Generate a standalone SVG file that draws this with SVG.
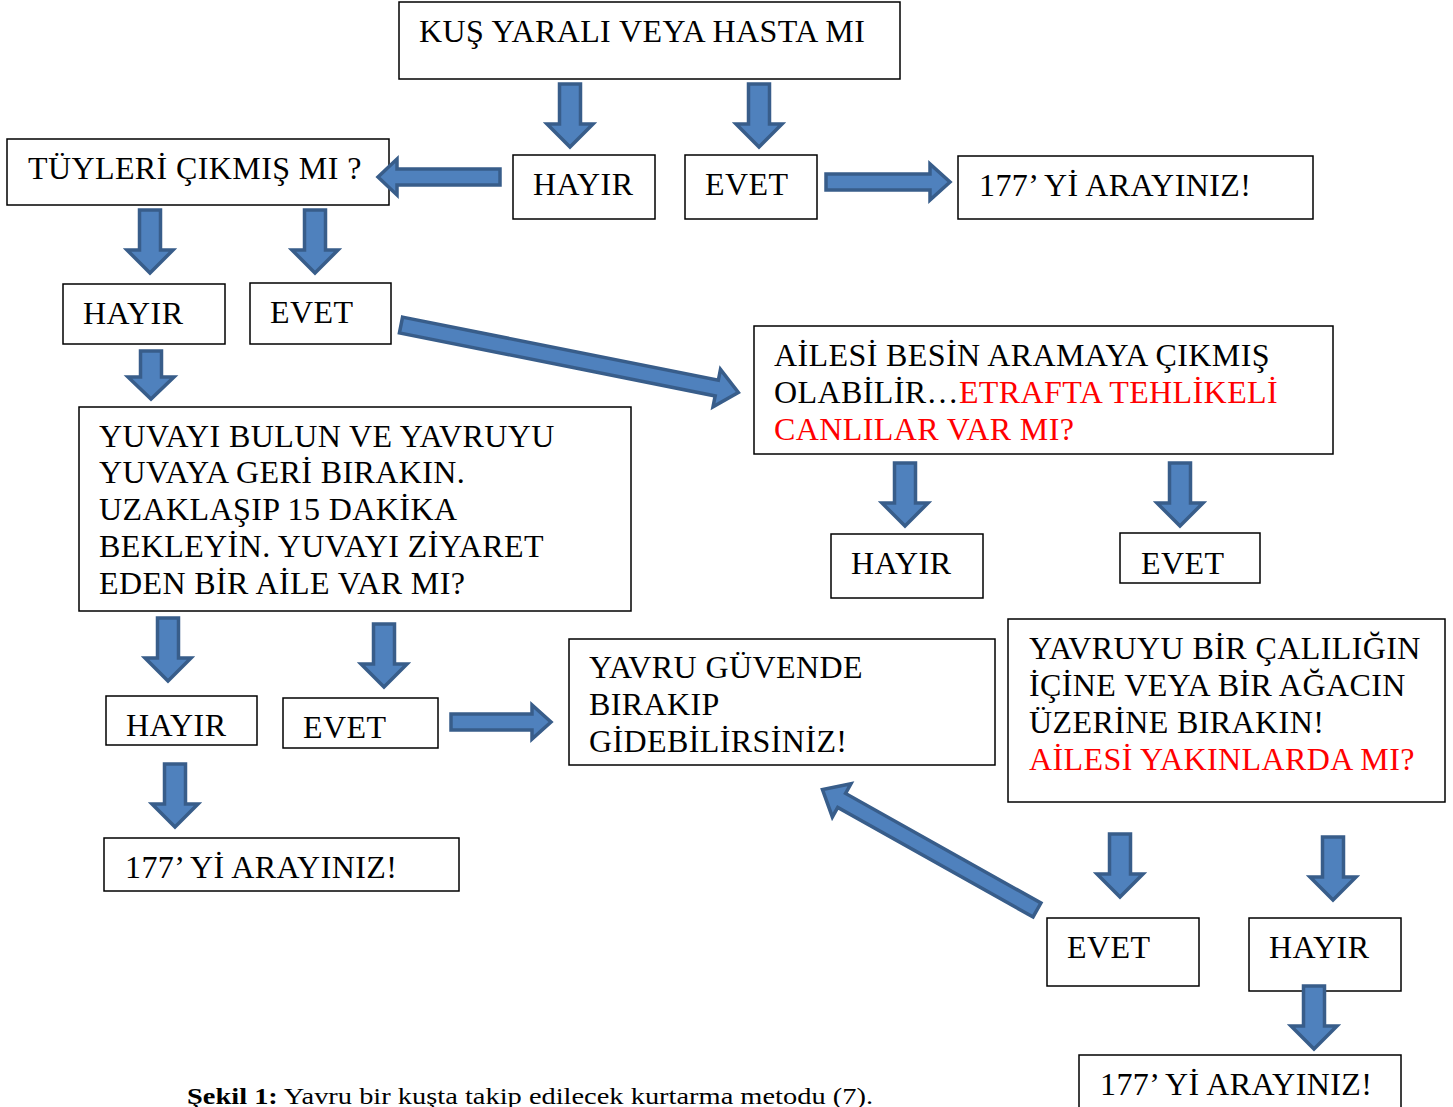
<svg xmlns="http://www.w3.org/2000/svg" width="1453" height="1107" viewBox="0 0 1453 1107">
<style>
.box{fill:#fff;stroke:#000;stroke-width:1.5}
.t{font-family:"Liberation Serif","Times New Roman",serif;font-size:32px;letter-spacing:0.4px;fill:#000}
.r{fill:#ff0000}
.arr{fill:#4f81bd;stroke:#385d8a;stroke-width:3.5;stroke-linejoin:miter}
.cap{font-family:"Liberation Serif","Times New Roman",serif;font-size:23px;fill:#000}
</style>
<defs>
<path id="down" d="M-10.5,0 H10.5 V40 H23 L0,63 L-23,40 H-10.5 Z"/>
<path id="downS" d="M-10.5,0 H10.5 V26 H23 L0,48 L-23,26 H-10.5 Z"/>
</defs>
<rect width="1453" height="1107" fill="#fff"/>
<g id="n-kus"><rect class="box" x="399" y="2" width="501" height="77"/><text class="t" x="419" y="42">KUŞ YARALI VEYA HASTA MI</text></g>
<g id="n-hayir1"><rect class="box" x="513" y="155" width="142" height="64"/><text class="t" x="533" y="195">HAYIR</text></g>
<g id="n-evet1"><rect class="box" x="685" y="155" width="132" height="64"/><text class="t" x="705" y="195">EVET</text></g>
<g id="n-177a"><rect class="box" x="958" y="156" width="355" height="63"/><text class="t" x="979" y="196">177’ Yİ ARAYINIZ!</text></g>
<g id="n-tuy"><rect class="box" x="7" y="139" width="382" height="66"/><text class="t" x="28" y="179">TÜYLERİ ÇIKMIŞ MI ?</text></g>
<g id="n-hayir2"><rect class="box" x="63" y="284" width="162" height="60"/><text class="t" x="83" y="324">HAYIR</text></g>
<g id="n-evet2"><rect class="box" x="250" y="283" width="141" height="61"/><text class="t" x="270" y="323">EVET</text></g>
<g id="n-ailesi"><rect class="box" x="754" y="326" width="579" height="128"/>
<text class="t" x="774" y="366">AİLESİ BESİN ARAMAYA ÇIKMIŞ</text>
<text class="t" x="774" y="403">OLABİLİR…<tspan class="r">ETRAFTA TEHLİKELİ</tspan></text>
<text class="t r" x="774" y="440">CANLILAR VAR MI?</text></g>
<g id="n-hayir3"><rect class="box" x="831" y="534" width="152" height="64"/><text class="t" x="851" y="574">HAYIR</text></g>
<g id="n-evet3"><rect class="box" x="1120" y="533" width="140" height="50"/><text class="t" x="1141" y="574">EVET</text></g>
<g id="n-yuva"><rect class="box" x="79" y="407" width="552" height="204"/>
<text class="t" x="99" y="447">YUVAYI BULUN VE YAVRUYU</text>
<text class="t" x="99" y="483">YUVAYA GERİ BIRAKIN.</text>
<text class="t" x="99" y="520">UZAKLAŞIP 15 DAKİKA</text>
<text class="t" x="99" y="557">BEKLEYİN. YUVAYI ZİYARET</text>
<text class="t" x="99" y="594">EDEN BİR AİLE VAR MI?</text></g>
<g id="n-hayir4"><rect class="box" x="106" y="696" width="151" height="49"/><text class="t" x="126" y="736">HAYIR</text></g>
<g id="n-evet4"><rect class="box" x="283" y="698" width="155" height="50"/><text class="t" x="303" y="738">EVET</text></g>
<g id="n-177b"><rect class="box" x="104" y="838" width="355" height="53"/><text class="t" x="125" y="878">177’ Yİ ARAYINIZ!</text></g>
<g id="n-guvende"><rect class="box" x="569" y="639" width="426" height="126"/>
<text class="t" x="589" y="678">YAVRU GÜVENDE</text>
<text class="t" x="589" y="715">BIRAKIP</text>
<text class="t" x="589" y="752">GİDEBİLİRSİNİZ!</text></g>
<g id="n-yavruyu"><rect class="box" x="1008" y="619" width="437" height="183"/>
<text class="t" x="1029" y="659">YAVRUYU BİR ÇALILIĞIN</text>
<text class="t" x="1029" y="696">İÇİNE VEYA BİR AĞACIN</text>
<text class="t" x="1029" y="733">ÜZERİNE BIRAKIN!</text>
<text class="t r" x="1029" y="770">AİLESİ YAKINLARDA MI?</text></g>
<g id="n-evet5"><rect class="box" x="1047" y="918" width="152" height="68"/><text class="t" x="1067" y="958">EVET</text></g>
<g id="n-hayir5"><rect class="box" x="1249" y="918" width="152" height="73"/><text class="t" x="1269" y="958">HAYIR</text></g>
<g id="n-177c"><rect class="box" x="1079" y="1055" width="322" height="60"/><text class="t" x="1100" y="1095">177’ Yİ ARAYINIZ!</text></g>
<g id="connectors" class="arr">
<use href="#down" x="570" y="84"/>
<use href="#down" x="759" y="84"/>
<path d="M500,169 H397 V159 L378,177 L397,195 V185 H500 Z"/>
<path d="M826,174 H930 V164 L950,182 L930,200 V190 H826 Z"/>
<use href="#down" x="150" y="210"/>
<use href="#down" x="315" y="210"/>
<path transform="translate(401,325) rotate(11.3)" d="M0,-8 H322 V-19 L344,0 L322,19 V8 H0 Z"/>
<use href="#downS" x="151" y="351"/>
<use href="#down" x="905" y="463"/>
<use href="#down" x="1180" y="463"/>
<use href="#down" x="168" y="618"/>
<use href="#down" x="384" y="624"/>
<path d="M451,714 H532 V705 L551,722 L532,739 V730 H451 Z"/>
<use href="#down" x="175" y="764"/>
<path transform="translate(1037,910) rotate(209.3)" d="M0,-8 H224 V-19 L246,0 L224,19 V8 H0 Z"/>
<use href="#down" x="1120" y="834"/>
<use href="#down" x="1333" y="837"/>
<use href="#down" x="1314" y="986"/>
</g>
<text class="cap" x="187" y="1104" textLength="686" lengthAdjust="spacingAndGlyphs"><tspan font-weight="bold">Şekil 1:</tspan> Yavru bir kuşta takip edilecek kurtarma metodu (7).</text>
</svg>
